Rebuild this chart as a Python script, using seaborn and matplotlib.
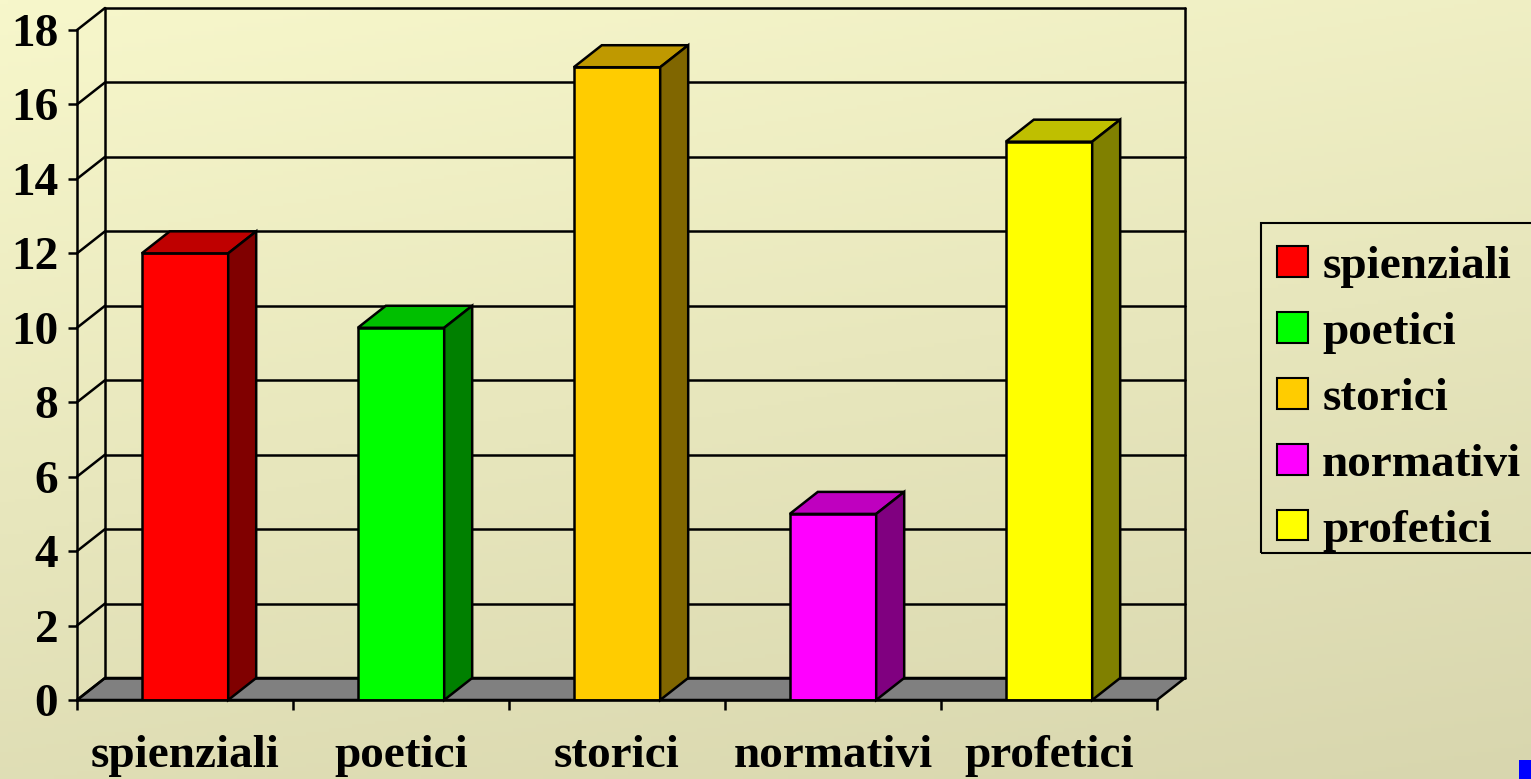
import matplotlib
matplotlib.use("Agg")
import matplotlib.pyplot as plt
import numpy as np
import pandas as pd
import seaborn as sns
from matplotlib.patches import Patch, Polygon, Rectangle


CATEGORIES = ["spienziali", "poetici", "storici", "normativi", "profetici"]
VALUES = [12, 10, 17, 5, 15]
FRONT_COLORS = ["#FF0000", "#00FF00", "#FFCC00", "#FF00FF", "#FFFF00"]
TOP_COLORS = ["#BF0000", "#00BF00", "#BF9900", "#BF00BF", "#BFBF00"]
SIDE_COLORS = ["#800000", "#008000", "#806600", "#800080", "#808000"]
Y_TICKS = list(range(0, 19, 2))

W_PX, H_PX = 1531, 779
DEPTH_PX = (28, 22)
LW = 1.8
FONT_SIZE = 34


def main() -> None:
    sns.set_theme(style="white")
    plt.rcParams["font.family"] = ["Liberation Serif", "DejaVu Serif"]
    plt.rcParams["font.weight"] = "bold"
    plt.rcParams["text.color"] = "black"
    plt.rcParams["xtick.color"] = "black"
    plt.rcParams["ytick.color"] = "black"
    plt.rcParams["xtick.labelcolor"] = "black"
    plt.rcParams["ytick.labelcolor"] = "black"

    fig = plt.figure(figsize=(W_PX / 100, H_PX / 100), dpi=100)

    # gradient background
    bg = fig.add_axes([0, 0, 1, 1], zorder=-10)
    yy, xx = np.mgrid[0:1:200j, 0:1:200j]
    t = 0.75 * yy + 0.25 * xx
    top = np.array([247, 247, 203]) / 255
    bottom = np.array([216, 214, 174]) / 255
    img = top[None, None, :] * (1 - t[..., None]) + bottom[None, None, :] * t[..., None]
    bg.imshow(img, aspect="auto", extent=(0, 1, 1, 0))
    bg.set_axis_off()

    left, right, y0, y18 = 77, 1157, 700, 30
    ax = fig.add_axes([left / W_PX, 1 - y0 / H_PX, (right - left) / W_PX, (y0 - y18) / H_PX])
    ax.set_facecolor("none")
    ax.set_xlim(-0.5, len(CATEGORIES) - 0.5)
    ax.set_ylim(0, 18)

    dx = DEPTH_PX[0] / (right - left) * len(CATEGORIES)
    dy = DEPTH_PX[1] / (y0 - y18) * 18
    x_lo, x_hi = -0.5, len(CATEGORIES) - 0.5

    # floor
    ax.add_patch(Polygon([(x_lo, 0), (x_hi, 0), (x_hi + dx, dy), (x_lo + dx, dy)],
                         closed=True, facecolor="#808080", edgecolor="black", lw=LW,
                         clip_on=False, zorder=1))
    # back wall gridlines and side wall diagonals
    for v in Y_TICKS:
        ax.plot([x_lo + dx, x_hi + dx], [v + dy, v + dy], color="black", lw=LW,
                clip_on=False, zorder=1)
        ax.plot([x_lo, x_lo + dx], [v, v + dy], color="black", lw=LW, clip_on=False, zorder=1)
    for xv in (x_lo + dx, x_hi + dx):
        ax.plot([xv, xv], [dy, 18 + dy], color="black", lw=LW, clip_on=False, zorder=1)

    df = pd.DataFrame({"category": CATEGORIES, "value": VALUES})
    sns.barplot(data=df, x="category", y="value", hue="category", palette=FRONT_COLORS,
                width=0.4, edgecolor="black", linewidth=LW, saturation=1, legend=False,
                ax=ax, zorder=3)

    bars = [q for q in ax.patches if isinstance(q, Rectangle)]
    for i, p in enumerate(bars):
        x0, w, h = p.get_x(), p.get_width(), p.get_height()
        ax.add_patch(Polygon([(x0, h), (x0 + dx, h + dy), (x0 + w + dx, h + dy), (x0 + w, h)],
                             closed=True, facecolor=TOP_COLORS[i], edgecolor="black", lw=LW,
                             clip_on=False, zorder=3))
        ax.add_patch(Polygon([(x0 + w, 0), (x0 + w + dx, dy), (x0 + w + dx, h + dy), (x0 + w, h)],
                             closed=True, facecolor=SIDE_COLORS[i], edgecolor="black", lw=LW,
                             clip_on=False, zorder=3))

    for side in ("top", "right"):
        ax.spines[side].set_visible(False)
    for side in ("left", "bottom"):
        ax.spines[side].set_color("black")
        ax.spines[side].set_linewidth(LW)
        ax.spines[side].set_zorder(4)

    ax.set_yticks(Y_TICKS)
    ax.set_yticklabels([str(v) for v in Y_TICKS])
    ax.tick_params(axis="y", direction="out", length=6.5, width=LW, color="black",
                   pad=7, labelsize=FONT_SIZE, left=True, labelcolor="black")
    ax.set_xticks(range(len(CATEGORIES)))
    ax.set_xticklabels(CATEGORIES)
    ax.set_xticks(np.arange(x_lo, x_hi + 0.01, 1.0), minor=True)
    ax.tick_params(axis="x", which="major", length=0, pad=25, labelsize=FONT_SIZE,
                   labelcolor="black")
    ax.tick_params(axis="x", which="minor", direction="out", length=7, width=LW,
                   color="black", bottom=True)
    for lbl in ax.get_xticklabels() + ax.get_yticklabels():
        lbl.set_fontweight("bold")
    ax.set_xlabel("")
    ax.set_ylabel("")

    # legend (frame drawn separately so its box matches the original)
    handles = [Patch(facecolor=c, edgecolor="black", lw=1.5) for c in FRONT_COLORS]
    fig.legend(handles, CATEGORIES, loc="upper left",
               bbox_to_anchor=(1258 / W_PX, 1 - 227 / H_PX), borderaxespad=0,
               prop={"family": "Liberation Serif", "weight": "bold", "size": FONT_SIZE},
               handlelength=0.66, handleheight=0.63, handletextpad=0.3,
               labelspacing=0.505, borderpad=0.4, frameon=False, labelcolor="black")
    fig.patches.append(Rectangle((1261 / W_PX, 1 - 553 / H_PX), 275 / W_PX, 330 / H_PX,
                                 transform=fig.transFigure, facecolor="none",
                                 edgecolor="black", lw=1.5))

    fig.patches.append(Rectangle((1519 / W_PX, 0), 12 / W_PX, 19 / H_PX,
                                 transform=fig.transFigure, facecolor="#0000FF",
                                 edgecolor="none"))

    fig.savefig("out.png", dpi=100)
    plt.close(fig)


if __name__ == "__main__":
    main()
